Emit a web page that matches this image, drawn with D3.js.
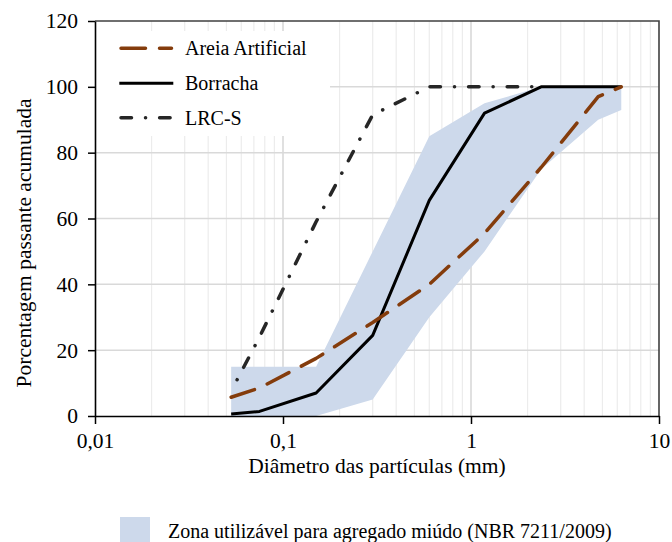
<!DOCTYPE html>
<html>
<head>
<meta charset="utf-8">
<script src="https://cdn.jsdelivr.net/npm/d3@7"></script>
<style>
  html, body { margin: 0; padding: 0; background: #fff; }
  svg { display: block; font-family: "Liberation Serif", "Times New Roman", serif; }
</style>
</head>
<body>
<svg id="chart" width="672" height="542"></svg>
<script>
// Sieve openings (mm) and cumulative passing (%)
const sieves = [0.053, 0.075, 0.15, 0.3, 0.6, 1.18, 2.36, 4.75, 6.3];
const areiaArtificial = [5.7, 8.5, 17.5, 28.4, 40, 55.5, 75.5, 97, 100];
const borracha = [0.6, 1.4, 7, 24.5, 65.5, 92, 100, 100, 100];

const sievesLRC = [0.057, 0.075, 0.15, 0.3, 0.6, 1.18, 2.36];
const lrcS = [11, 24, 59, 91.5, 100, 100, 100];

// NBR 7211/2009 usable zone for fine aggregate
const sievesZone = [0.053, 0.15, 0.3, 0.6, 1.18, 2.36, 4.75, 6.3];
const zoneUpper = [15, 15, 50, 85, 95, 100, 100, 100];
const zoneLower = [0, 0, 5, 30, 50, 75, 90, 93];

const xTickValues = [0.01, 0.1, 1, 10];
const xTickLabels = ["0,01", "0,1", "1", "10"];
const yTickValues = [0, 20, 40, 60, 80, 100, 120];

const seriesNames = ["Areia Artificial", "Borracha", "LRC-S"];
const zoneName = "Zona utilizável para agregado miúdo (NBR 7211/2009)";

const svg = d3.select("#chart");
const L = 95, R = 659, T = 21, B = 416;

const x = d3.scaleLog().domain([0.01, 10]).range([L, R]);
const y = d3.scaleLinear().domain([0, 120]).range([B, T]);

// minor vertical grid (2..9 of each decade)
const minor = [];
[0.01, 0.1, 1].forEach(d => { for (let k = 2; k <= 9; k++) minor.push(+(d * k).toPrecision(3)); });
svg.append("g").selectAll("line").data(minor).join("line")
  .attr("x1", d => x(d)).attr("x2", d => x(d))
  .attr("y1", T).attr("y2", B)
  .attr("stroke", "#ececec").attr("stroke-width", 1.2);

// major vertical grid
svg.append("g").selectAll("line").data([0.1, 1]).join("line")
  .attr("x1", d => x(d)).attr("x2", d => x(d))
  .attr("y1", T).attr("y2", B)
  .attr("stroke", "#d6d6d6").attr("stroke-width", 1.5);

// horizontal grid
svg.append("g").selectAll("line").data([20, 40, 60, 80, 100]).join("line")
  .attr("x1", L).attr("x2", R)
  .attr("y1", d => y(d)).attr("y2", d => y(d))
  .attr("stroke", "#d9d9d9").attr("stroke-width", 1.5);

// legend background
svg.append("rect").attr("x", 96).attr("y", 31).attr("width", 234).attr("height", 105).attr("fill", "#fff");

// usable zone
const zoneData = sievesZone.map((s, i) => ({ s, lo: zoneLower[i], hi: zoneUpper[i] }));
svg.append("path").datum(zoneData)
  .attr("fill", "#cdd9eb")
  .attr("d", d3.area().x(d => x(d.s)).y0(d => y(d.lo)).y1(d => y(d.hi)));

const line = d3.line().x(d => x(d[0])).y(d => y(d[1]));

// LRC-S
svg.append("path").datum(sievesLRC.map((s, i) => [s, lrcS[i]]))
  .attr("fill", "none").attr("stroke", "#262626").attr("stroke-width", 3.5)
  .attr("stroke-linecap", "round").attr("stroke-linejoin", "round")
  .attr("stroke-dasharray", "0.1,14,10.5,14")
  .attr("d", line);

// Borracha
svg.append("path").datum(sieves.map((s, i) => [s, borracha[i]]))
  .attr("fill", "none").attr("stroke", "#000").attr("stroke-width", 3)
  .attr("stroke-linejoin", "round")
  .attr("d", line);

// Areia Artificial
svg.append("path").datum(sieves.map((s, i) => [s, areiaArtificial[i]]))
  .attr("fill", "none").attr("stroke", "#843c0c").attr("stroke-width", 3.5)
  .attr("stroke-linecap", "round").attr("stroke-linejoin", "round")
  .attr("stroke-dasharray", "24.5,14")
  .attr("d", line);

// frame (top and right)
svg.append("path")
  .attr("d", `M${L},${T}H${R}V${B}`)
  .attr("fill", "none").attr("stroke", "#404040").attr("stroke-width", 1.6);

// axes
const yAxis = d3.axisLeft(y).tickValues(yTickValues).tickSize(7).tickSizeOuter(0).tickPadding(10);
const gy = svg.append("g").attr("transform", `translate(${L},0)`).call(yAxis);
gy.select(".domain").attr("stroke", "#000").attr("stroke-width", 1.6);
gy.selectAll(".tick line").attr("stroke", "#000").attr("stroke-width", 1.5);
gy.selectAll(".tick text").attr("font-family", "Liberation Serif").attr("font-size", 21.5).attr("fill", "#000");

const xAxis = d3.axisBottom(x).tickValues(xTickValues)
  .tickFormat((d, i) => xTickLabels[i]).tickSize(8).tickSizeOuter(0).tickPadding(9);
const gx = svg.append("g").attr("transform", `translate(0,${B})`).call(xAxis);
gx.select(".domain").attr("stroke", "#000").attr("stroke-width", 1.6);
gx.selectAll(".tick line").attr("stroke", "#000").attr("stroke-width", 1.5);
gx.selectAll(".tick text").attr("font-family", "Liberation Serif").attr("font-size", 21.5).attr("fill", "#000");

// axis titles
svg.append("text").attr("x", (L + R) / 2).attr("y", 473)
  .attr("text-anchor", "middle").attr("font-size", 21.5).attr("fill", "#000")
  .text("Diâmetro das partículas (mm)");
svg.append("text").attr("transform", "translate(31,243) rotate(-90)")
  .attr("text-anchor", "middle").attr("font-size", 21.5).attr("fill", "#000")
  .text("Porcentagem passante acumulada");

// legend
const legendStyles = [
  { stroke: "#843c0c", width: 3.5, dash: "24.5,14", cap: "round" },
  { stroke: "#000", width: 3, dash: null, cap: "butt" },
  { stroke: "#262626", width: 3.5, dash: "10.5,14,0.1,14", cap: "round" }
];
const legendLineY = [48.3, 83.3, 117.7];
const lg = svg.append("g");
seriesNames.forEach((name, i) => {
  const st = legendStyles[i];
  const x1 = st.cap === "round" ? 121 : 119.3, x2 = st.cap === "round" ? 171.5 : 173.3;
  lg.append("line").attr("x1", x1).attr("x2", x2)
    .attr("y1", legendLineY[i]).attr("y2", legendLineY[i])
    .attr("stroke", st.stroke).attr("stroke-width", st.width)
    .attr("stroke-linecap", st.cap)
    .attr("stroke-dasharray", st.dash);
  lg.append("text").attr("x", 185).attr("y", legendLineY[i] + 7)
    .attr("font-size", 20).attr("fill", "#000").text(name);
});

// zone legend
svg.append("rect").attr("x", 120).attr("y", 517).attr("width", 30).attr("height", 25).attr("fill", "#cdd9eb");
svg.append("text").attr("x", 168).attr("y", 538).attr("font-size", 20).attr("fill", "#000").text(zoneName);
</script>
</body>
</html>
